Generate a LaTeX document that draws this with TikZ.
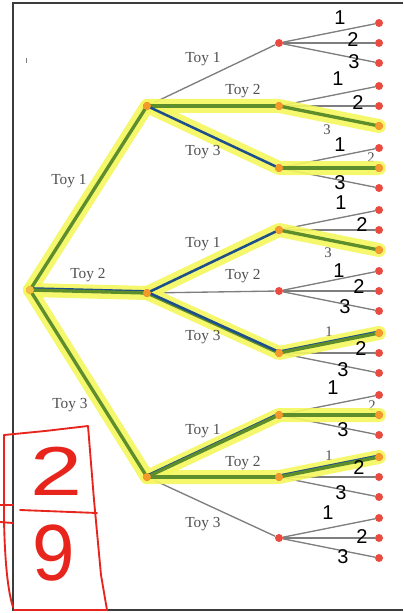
\documentclass[tikz,border=0pt]{standalone}
\usepackage{fontspec}
\setmainfont{Liberation Serif}
\newfontfamily\hand{Liberation Sans}
\definecolor{dotred}{HTML}{EA4A3F}
\definecolor{dotorange}{HTML}{F39A2B}
\definecolor{edgegray}{HTML}{7E7E7E}
\definecolor{toygray}{HTML}{505050}
\definecolor{hlyellow}{HTML}{F4F75E}
\definecolor{hlgreen}{HTML}{5E8E2C}
\definecolor{hlblue}{HTML}{1C4F8C}
\definecolor{framegray}{HTML}{3C3C3C}
\definecolor{penred}{HTML}{E8251C}
\pgfdeclarelayer{bg}
\pgfdeclarelayer{hlayer}
\pgfsetlayers{bg,hlayer,main}
\begin{document}
\begin{tikzpicture}[x=0.75pt,y=-0.75pt,
  dot/.style={circle,fill=dotred,inner sep=0pt,minimum size=6pt},
  hdot/.style={circle,fill=dotorange,inner sep=0pt,minimum size=6pt},
  edge/.style={draw=edgegray,line width=1pt},
  hl/.style={draw=hlyellow,line width=10.5pt,line cap=round,line join=round,opacity=0.9},
  gline/.style={draw=hlgreen,line width=2.5pt,line cap=round},
  bline/.style={draw=hlblue,line width=1.9pt,line cap=round},
  toy/.style={text=toygray,font=\fontsize{11.5}{12}\selectfont,inner sep=0pt},
  pnum/.style={text=toygray,font=\fontsize{11}{11}\selectfont,inner sep=0pt},
  hnum/.style={text=black,font=\hand\fontsize{15}{16}\selectfont,inner sep=0pt},
  pen/.style={draw=penred,line width=1.4pt,line cap=round,line join=round},
  bignum/.style={text=penred,font=\hand\fontsize{52}{52}\selectfont,inner sep=0pt}
]
\useasboundingbox (0,0) rectangle (403,613);
\begin{pgfonlayer}{bg}
\fill[white] (0,0) rectangle (403,613);
\end{pgfonlayer}

% frame
\draw[framegray,line width=1.2pt] (403,3) -- (13,3) -- (13,610) -- (403,610);
\draw[edgegray,line width=0.6pt] (26,58) -- (26,63);

% nodes
\node[dot] (r) at (30,290) {};
\node[dot] (a) at (147,106) {};
\node[dot] (b) at (147,293) {};
\node[dot] (c) at (147,477) {};
\foreach \n/\y in {a1/43,a2/106,a3/168,b1/230,b2/291,b3/353,c1/415,c2/477,c3/538} {
  \node[dot] (\n) at (279,\y) {};
  \node[dot] (\n-1) at (379,{\y-20}) {};
  \node[dot] (\n-2) at (379,\y) {};
  \node[dot] (\n-3) at (379,{\y+20}) {};
}

% gray edges
\begin{pgfonlayer}{bg}
\foreach \p/\q in {r/a,r/b,r/c,a/a1,a/a2,a/a3,b/b1,b/b2,b/b3,c/c1,c/c2,c/c3}
  \draw[edge] (\p) -- (\q);
\foreach \n in {a1,a2,a3,b1,b2,b3,c1,c2,c3} {
  \draw[edge] (\n) -- (\n-1);
  \draw[edge] (\n) -- (\n-2);
  \draw[edge] (\n) -- (\n-3);
}
% printed branch numbers
\node[pnum] (p1) at (327,130) {3};
\node[pnum] (p2) at (371,158) {2};
\node[pnum] (p3) at (328,253) {3};
\node[pnum] (p4) at (329,332) {1};
\node[pnum] (p5) at (372,406) {2};
\node[pnum] (p6) at (329,456) {1};
\end{pgfonlayer}

% highlighter
\begin{pgfonlayer}{hlayer}
\draw[hl] (r.center) -- (a.center) -- (a2.center) -- (a2-3.center);
\draw[hl] (a.center) -- (a3.center) -- (a3-2.center);
\draw[hl] (r.center) -- (b.center) -- (b1.center) -- (b1-3.center);
\draw[hl] (b.center) -- (b3.center) -- (b3-1.center);
\draw[hl] (r.center) -- (c.center) -- (c1.center) -- (c1-2.center);
\draw[hl] (c.center) -- (c2.center) -- (c2-1.center);
\end{pgfonlayer}

% coloured centre lines
\draw[bline] ([yshift=1.2pt]r.center) -- ([yshift=1.2pt]b.center);
\draw[bline] ([yshift=1pt]b3.center) -- ([yshift=1pt]b3-1.center);
\draw[bline] ([yshift=1pt]c.center) -- ([yshift=1pt]c1.center);
\draw[bline] ([yshift=1pt]c2.center) -- ([yshift=1pt]c2-1.center);
\draw[gline] (r.center) -- (a.center);
\draw[gline] (a.center) -- (a2.center);
\draw[gline] (a2.center) -- (a2-3.center);
\draw[bline] (a.center) -- (a3.center);
\draw[gline] (a3.center) -- (a3-2.center);
\draw[gline] (r.center) -- (b.center);
\draw[bline] (b.center) -- (b1.center);
\draw[gline] (b1.center) -- (b1-3.center);
\draw[gline] (b.center) -- (b3.center);
\draw[bline] ([yshift=0.8pt]b.center) -- ([yshift=0.8pt]b3.center);
\draw[gline] (b3.center) -- (b3-1.center);
\draw[gline] (r.center) -- (c.center);
\draw[gline] (c.center) -- (c1.center);
\draw[gline] (c1.center) -- (c1-2.center);
\draw[gline] (c.center) -- (c2.center);
\draw[gline] (c2.center) -- (c2-1.center);

% highlighted dots
\foreach \n in {a,b,c,a2,a3,b1,b3,c1,c2,a2-3,a3-2,b1-3,b3-1,c1-2,c2-1}
  \node[hdot] at (\n) {};
\node[circle,fill=dotorange!60!hlyellow,inner sep=0pt,minimum size=6pt] at (r) {};

% edge labels
\node[toy] (t1) at (69,181) {Toy 1};
\node[toy] (t2) at (88,275) {Toy 2};
\node[toy] (t3) at (70,405) {Toy 3};
\foreach \k/\y in {a/0,b/185,c/372} {
  \node[toy] (\k l1) at (203,{59+\y}) {Toy 1};
  \node[toy] (\k l2) at (243,{91+\y}) {Toy 2};
  \node[toy] (\k l3) at (203,{152+\y}) {Toy 3};
}

% handwritten numbers
\node[hnum] (h1) at (340,18) {1};
\node[hnum] (h2) at (353,40) {2};
\node[hnum] (h3) at (354,62) {3};
\node[hnum] (h4) at (338,79) {1};
\node[hnum] (h5) at (358,103) {2};
\node[hnum] (h6) at (340,145) {1};
\node[hnum] (h7) at (340,183) {3};
\node[hnum] (h8) at (341,203) {1};
\node[hnum] (h9) at (362,225) {2};
\node[hnum] (h10) at (339,271) {1};
\node[hnum] (h11) at (359,287) {2};
\node[hnum] (h12) at (345,307) {3};
\node[hnum] (h13) at (361,349) {2};
\node[hnum] (h14) at (343,370) {3};
\node[hnum] (h15) at (333,388) {1};
\node[hnum] (h16) at (343,430) {3};
\node[hnum] (h17) at (359,468) {2};
\node[hnum] (h18) at (341,493) {3};
\node[hnum] (h19) at (328,513) {1};
\node[hnum] (h20) at (362,537) {2};
\node[hnum] (h21) at (343,557) {3};

% red box with 2/9
\draw[pen] (4,435) -- (45,431) -- (88,426) -- (94,500) -- (101,575) -- (107,610) -- (14,610);
\draw[pen] (4,435) -- (4,520) .. controls (5,570) and (9,595) .. (13,607);
\draw[pen] (0,505) -- (13,505);
\draw[pen] (0,522) -- (13,523);
\draw[pen] (20,510) -- (97,513);
\node[bignum,xscale=1.35] (n2) at (57,471) {2};
\node[bignum,xscale=1.1,yscale=1.15] (n9) at (54,553) {9};
\end{tikzpicture}
\end{document}
